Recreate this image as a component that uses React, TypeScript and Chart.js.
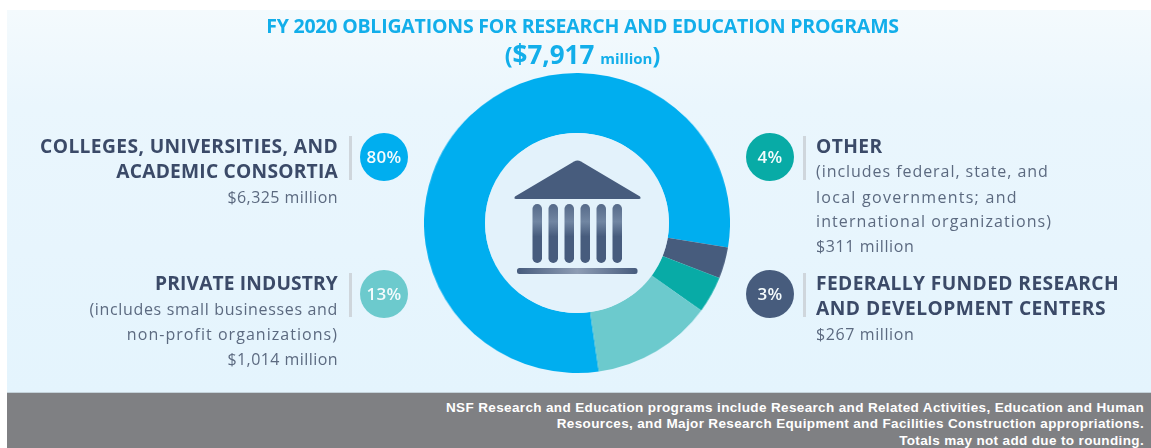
import React, { useEffect, useRef } from "react";
import { Chart, registerables } from "chart.js";

Chart.register(...registerables);

const categories = [
  "Colleges, universities, and academic consortia",
  "Federally funded research and development centers",
  "Other",
  "Private industry",
];
const obligations = [6325, 267, 311, 1014];
const sliceColors = ["#00aeef", "#475c7d", "#08aba6", "#6ccacd"];

const titleLine = "FY 2020 OBLIGATIONS FOR RESEARCH AND EDUCATION PROGRAMS";
const footnotes = [
  "NSF Research and Education programs include Research and Related Activities, Education and Human",
  "Resources, and Major Research Equipment and Facilities Construction appropriations.",
  "Totals may not add due to rounding.",
];

const INK = "#3b4a68";
const SOFT = "#5c6a80";
const FACE = "'Open Sans', 'Noto Sans', sans-serif";

type LineProps = { y: number; text: string; side: "left" | "right"; strong?: boolean; spacing?: number };

// One line of a callout, anchored to the column edge nearest the ring.
function CalloutLine({ y, text, side, strong, spacing }: LineProps) {
  const anchor: React.CSSProperties = side === "left" ? { right: 1151 - 338, textAlign: "right" } : { left: 816 };
  return (
    <div
      style={{
        position: "absolute",
        top: y - 13,
        height: 26,
        lineHeight: "26px",
        whiteSpace: "nowrap",
        fontFamily: FACE,
        fontWeight: strong ? 700 : 400,
        fontSize: strong ? 19.2 : 16,
        letterSpacing: spacing ?? (strong ? 0.4 : 0.6),
        color: strong ? INK : SOFT,
        ...anchor,
      }}
    >
      {text}
    </div>
  );
}

function Badge({ x, y, color, label }: { x: number; y: number; color: string; label: string }) {
  const barLeft = x < 576 ? x - 35 : x + 33;
  return (
    <>
      <div style={{ position: "absolute", left: barLeft, top: y - 21, width: 3, height: 44, background: "#cfd6dc" }} />
      <div
        style={{
          position: "absolute",
          left: x - 24,
          top: y - 24,
          width: 48,
          height: 48,
          borderRadius: "50%",
          background: color,
          color: "#f4fbfd",
          fontFamily: FACE,
          fontWeight: 600,
          fontSize: 17,
          letterSpacing: 0.3,
          lineHeight: "48px",
          textAlign: "center",
        }}
      >
        {label}
      </div>
    </>
  );
}

// Classical building emblem set in the hole of the ring.
function Emblem() {
  const columns = [0, 1, 2, 3, 4, 5];
  return (
    <svg width={1151} height={448} style={{ position: "absolute", left: 0, top: 0 }}>
      <defs>
        <linearGradient id="shaft" x1="0" y1="0" x2="0" y2="1">
          <stop offset="0" stopColor="#566a89" />
          <stop offset="0.3" stopColor="#7186a2" />
          <stop offset="0.55" stopColor="#475c7d" />
          <stop offset="1" stopColor="#475c7d" />
        </linearGradient>
        <linearGradient id="plinth" x1="0" y1="0" x2="1" y2="0">
          <stop offset="0" stopColor="#475c7d" />
          <stop offset="0.5" stopColor="#8e9db4" />
          <stop offset="1" stopColor="#475c7d" />
        </linearGradient>
      </defs>
      <ellipse cx={577} cy={223} rx={92} ry={90} fill="#e3f2fb" />
      <path
        d="M515 196.5 L574 161.5 Q577.5 159.5 581 161.5 L640 196.5 Q641.5 199 639 199 L516 199 Q513.5 199 515 196.5 Z"
        fill="#475c7d"
      />
      {columns.map((i) => (
        <rect key={i} x={532.5 + i * 16} y={204} width={9.5} height={59} rx={4.7} fill="url(#shaft)" />
      ))}
      <rect x={517} y={268} width={120.5} height={6} rx={2.5} fill="url(#plinth)" />
    </svg>
  );
}

export default function App() {
  const canvasRef = useRef<HTMLCanvasElement>(null);

  useEffect(() => {
    const chart = new Chart(canvasRef.current!, {
      type: "doughnut",
      data: {
        labels: categories,
        datasets: [{ data: obligations, backgroundColor: sliceColors, borderWidth: 0 }],
      },
      options: {
        animation: false,
        responsive: false,
        rotation: 171.8,
        cutout: "60%",
        layout: { padding: 0 },
        plugins: { legend: { display: false }, tooltip: { enabled: false } },
      },
    });
    return () => chart.destroy();
  }, []);

  return (
    <div style={{ position: "fixed", left: 0, top: 0, width: 1151, height: 448, background: "#fff", overflow: "hidden" }}>
      <div
        style={{
          position: "absolute",
          left: 7,
          top: 10,
          width: 1144,
          height: 383,
          background: "linear-gradient(#f4fafd 0%, #eaf6fd 25%, #e4f4fd 100%)",
        }}
      />
      <div style={{ position: "absolute", left: 424, top: 73, width: 306, height: 300 }}>
        <canvas
          ref={canvasRef}
          width={300}
          height={300}
          style={{ position: "absolute", left: 3, top: 0, transform: "scaleX(1.02)" }}
        />
      </div>
      <Emblem />

      <div
        style={{
          position: "absolute",
          left: 0,
          width: 1165,
          top: 13,
          textAlign: "center",
          color: "#12aeea",
          fontFamily: FACE,
          fontWeight: 700,
          fontSize: 19.5,
          lineHeight: "26px",
          whiteSpace: "nowrap",
          letterSpacing: -0.2,
        }}
      >
        {titleLine}
      </div>
      <div
        style={{
          position: "absolute",
          left: 0,
          width: 1165,
          top: 37,
          textAlign: "center",
          color: "#12aeea",
          fontFamily: FACE,
          fontWeight: 700,
          fontSize: 23,
          lineHeight: "34px",
          whiteSpace: "nowrap",
        }}
      >
        (<span style={{ fontSize: 26 }}>$7,917</span> <span style={{ fontSize: 15 }}>million</span>)
      </div>

      <CalloutLine side="left" strong y={146} text="COLLEGES, UNIVERSITIES, AND" />
      <CalloutLine side="left" strong y={171} spacing={0.23} text="ACADEMIC CONSORTIA" />
      <CalloutLine side="left" y={197} spacing={0.44} text="$6,325 million" />
      <CalloutLine side="left" strong y={283} spacing={0.15} text="PRIVATE INDUSTRY" />
      <CalloutLine side="left" y={309} spacing={0.66} text="(includes small businesses and" />
      <CalloutLine side="left" y={334} spacing={1.04} text="non-profit organizations)" />
      <CalloutLine side="left" y={359} spacing={0.44} text="$1,014 million" />

      <CalloutLine side="right" strong y={146} text="OTHER" />
      <CalloutLine side="right" y={171} spacing={0.95} text="(includes federal, state, and" />
      <CalloutLine side="right" y={197} spacing={1.27} text="local governments; and" />
      <CalloutLine side="right" y={221} spacing={1.09} text="international organizations)" />
      <CalloutLine side="right" y={246} text="$311 million" />
      <CalloutLine side="right" strong y={283} text="FEDERALLY FUNDED RESEARCH" />
      <CalloutLine side="right" strong y={308} spacing={0.5} text="AND DEVELOPMENT CENTERS" />
      <CalloutLine side="right" y={334} text="$267 million" />

      <Badge x={384} y={157} color={sliceColors[0]} label="80%" />
      <Badge x={384} y={294} color={sliceColors[3]} label="13%" />
      <Badge x={770} y={157} color={sliceColors[2]} label="4%" />
      <Badge x={770} y={294} color={sliceColors[1]} label="3%" />

      <div style={{ position: "absolute", left: 7, top: 392, width: 1144, height: 1, background: "#c4d2da" }} />
      <div style={{ position: "absolute", left: 7, top: 393, width: 1144, height: 55, background: "#7f8083" }} />
      {footnotes.map((line, i) => (
        <div
          key={line}
          style={{
            position: "absolute",
            right: 7,
            top: 399.5 + i * 16.5,
            lineHeight: "16px",
            whiteSpace: "nowrap",
            color: "#fff",
            fontFamily: "'Liberation Sans', sans-serif",
            fontWeight: 700,
            fontSize: 13.5,
            letterSpacing: 0.36,
          }}
        >
          {line}
        </div>
      ))}
    </div>
  );
}
